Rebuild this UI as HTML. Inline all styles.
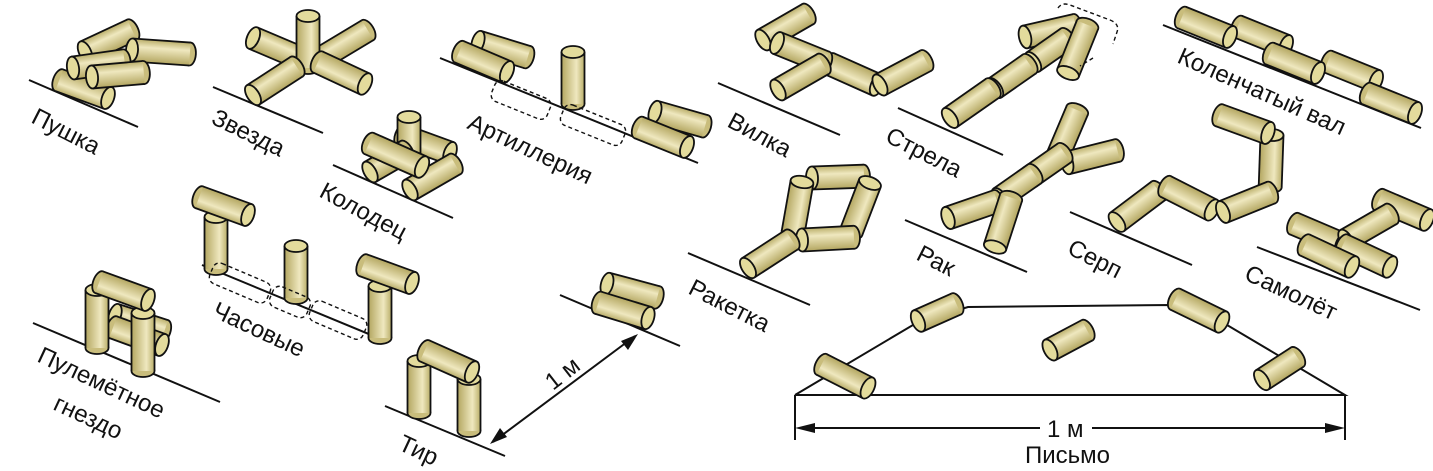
<!DOCTYPE html>
<html><head><meta charset="utf-8"><style>
html,body{margin:0;padding:0;background:#fff}
svg{display:block}
text{font-family:"Liberation Sans",sans-serif;font-size:24px;fill:#111}
</style></head><body>
<svg width="1433" height="471" viewBox="0 0 1433 471" xmlns="http://www.w3.org/2000/svg">
<defs>
<linearGradient id="g" x1="0" y1="0" x2="0" y2="1">
<stop offset="0" stop-color="#b9ad68"/><stop offset="0.35" stop-color="#efe8bf"/><stop offset="1" stop-color="#b3a660"/>
</linearGradient>
<g id="c"><ellipse cx="52" cy="0" rx="6" ry="11.5" fill="#c9bd7c" stroke="#111" stroke-width="1.8"/><rect x="0" y="-11.5" width="52" height="23" fill="url(#g)"/><line x1="0" y1="-11.5" x2="52" y2="-11.5" stroke="#111" stroke-width="1.8"/><line x1="0" y1="11.5" x2="52" y2="11.5" stroke="#111" stroke-width="1.8"/><ellipse cx="0" cy="0" rx="6" ry="11.5" fill="#e3db9c" stroke="#111" stroke-width="1.8"/></g>
<g id="s"><ellipse cx="42" cy="0" rx="6" ry="11.5" fill="#c9bd7c" stroke="#111" stroke-width="1.8"/><rect x="0" y="-11.5" width="42" height="23" fill="url(#g)"/><line x1="0" y1="-11.5" x2="42" y2="-11.5" stroke="#111" stroke-width="1.8"/><line x1="0" y1="11.5" x2="42" y2="11.5" stroke="#111" stroke-width="1.8"/><ellipse cx="0" cy="0" rx="6" ry="11.5" fill="#e3db9c" stroke="#111" stroke-width="1.8"/></g>
<g id="l"><ellipse cx="58" cy="0" rx="6" ry="11.5" fill="#c9bd7c" stroke="#111" stroke-width="1.8"/><rect x="0" y="-11.5" width="58" height="23" fill="url(#g)"/><line x1="0" y1="-11.5" x2="58" y2="-11.5" stroke="#111" stroke-width="1.8"/><line x1="0" y1="11.5" x2="58" y2="11.5" stroke="#111" stroke-width="1.8"/><ellipse cx="0" cy="0" rx="6" ry="11.5" fill="#e3db9c" stroke="#111" stroke-width="1.8"/></g>
</defs>
<g stroke="#111" stroke-width="2" fill="none">
<line x1="29" y1="80" x2="138" y2="127"/>
<line x1="213" y1="87" x2="323" y2="133"/>
<line x1="333" y1="165" x2="453" y2="218"/>
<line x1="440" y1="58" x2="698" y2="163"/>
<line x1="718" y1="83" x2="840" y2="135"/>
<line x1="898" y1="108" x2="1003" y2="155"/>
<line x1="1163" y1="25" x2="1421" y2="128"/>
<line x1="33" y1="323" x2="220" y2="402"/>
<line x1="202" y1="265" x2="388" y2="342"/>
<line x1="385" y1="406" x2="505" y2="456"/>
<line x1="560" y1="295" x2="680" y2="346"/>
<line x1="688" y1="253" x2="810" y2="305"/>
<line x1="905" y1="220" x2="1027" y2="272"/>
<line x1="1070" y1="212" x2="1192" y2="265"/>
<line x1="1257" y1="247" x2="1420" y2="310"/>
<polyline points="795,395 918,322 968,307 1172,305 1222,322 1345,395 795,395"/>
<line x1="795" y1="395" x2="795" y2="440"/><line x1="1345" y1="395" x2="1345" y2="440"/>
<line x1="800" y1="428" x2="1040" y2="428"/><line x1="1092" y1="428" x2="1340" y2="428"/>
<line x1="493" y1="442" x2="635" y2="336"/>
</g>
<g fill="#111">
<polygon points="795,428 815,423 815,433"/><polygon points="1345,428 1325,423 1325,433"/>
<polygon points="490,444 500,428 507,437"/><polygon points="638,334 628,350 621,341"/>
</g>
<g>
<!-- Пушка -->
<use href="#c" transform="translate(85,52) rotate(-25)"/>
<use href="#l" transform="translate(132,50) rotate(4)"/>
<use href="#c" transform="translate(108,98) rotate(200)"/>
<use href="#c" transform="translate(73,68) rotate(-8)"/>
<use href="#c" transform="translate(92,77) rotate(-5)"/>
<!-- Звезда -->
<use href="#c" transform="translate(253,38) rotate(23)"/>
<use href="#l" transform="translate(318,60) rotate(-31)"/>
<use href="#c" transform="translate(308,16) rotate(90)"/>
<use href="#c" transform="translate(365,84) rotate(205)"/>
<use href="#c" transform="translate(253,95) rotate(-33)"/>
<!-- Колодец -->
<use href="#c" transform="translate(450,153) rotate(200)"/>
<use href="#s" transform="translate(409,117) rotate(90)"/>
<use href="#s" transform="translate(370,172) rotate(-30)"/>
<use href="#c" transform="translate(410,190) rotate(-30)"/>
<use href="#l" transform="translate(422,167) rotate(204)"/>
<!-- Артиллерия -->
<use href="#c" transform="translate(478,42) rotate(17)"/>
<use href="#c" transform="translate(507,72) rotate(203)"/>
<use href="#c" transform="translate(573,52) rotate(90)"/>
<use href="#c" transform="translate(655,112) rotate(16)"/>
<use href="#c" transform="translate(687,147) rotate(202)"/>
<!-- Вилка -->
<use href="#c" transform="translate(763,40) rotate(-30)"/>
<use href="#c" transform="translate(877,85) rotate(204)"/>
<use href="#c" transform="translate(777,43) rotate(22)"/>
<use href="#c" transform="translate(778,90) rotate(-30)"/>
<use href="#c" transform="translate(880,85) rotate(-28)"/>
<!-- Стрела -->
<use href="#c" transform="translate(1025,37) rotate(-13)"/>
<use href="#s" transform="translate(1033,62) rotate(-35)"/>
<use href="#s" transform="translate(995,88) rotate(-35)"/>
<use href="#c" transform="translate(950,118) rotate(-35)"/>
<use href="#c" transform="translate(1068,73) rotate(-68)"/>
<path d="M1058,8 Q1062,2 1070,5 L1110,20 Q1120,24 1117,32 L1113,44 M1093,58 L1080,66" fill="none" stroke="#111" stroke-dasharray="4 3" stroke-width="1.4"/>
<!-- Коленчатый вал -->
<use href="#c" transform="translate(1286,46) rotate(202)"/>
<use href="#c" transform="translate(1230,37) rotate(202)"/>
<use href="#c" transform="translate(1376,81) rotate(202)"/>
<use href="#c" transform="translate(1318,73) rotate(202)"/>
<use href="#c" transform="translate(1415,113) rotate(202)"/>
<!-- Ракетка -->
<use href="#c" transform="translate(812,178) rotate(-2)"/>
<use href="#c" transform="translate(870,183) rotate(111)"/>
<use href="#c" transform="translate(802,182) rotate(100)"/>
<use href="#c" transform="translate(802,240) rotate(-3)"/>
<use href="#c" transform="translate(748,268) rotate(-33)"/>
<!-- Рак -->
<use href="#c" transform="translate(1057,158) rotate(-67)"/>
<use href="#c" transform="translate(1067,163) rotate(-14)"/>
<use href="#s" transform="translate(1030,177) rotate(-35)"/>
<use href="#s" transform="translate(1000,198) rotate(-35)"/>
<use href="#c" transform="translate(948,218) rotate(-19)"/>
<use href="#c" transform="translate(995,247) rotate(-72)"/>
<!-- Серп -->
<use href="#c" transform="translate(1272,135) rotate(92)"/>
<use href="#c" transform="translate(1268,133) rotate(200)"/>
<use href="#c" transform="translate(1117,222) rotate(-37)"/>
<use href="#c" transform="translate(1212,210) rotate(207)"/>
<use href="#c" transform="translate(1223,212) rotate(-22)"/>
<!-- Самолёт -->
<use href="#c" transform="translate(1427,220) rotate(203)"/>
<use href="#c" transform="translate(1342,244) rotate(203)"/>
<use href="#c" transform="translate(1346,240) rotate(-30)"/>
<use href="#c" transform="translate(1390,267) rotate(205)"/>
<use href="#c" transform="translate(1352,267) rotate(205)"/>
<!-- Пулемётное гнездо -->
<use href="#c" transform="translate(115,315) rotate(18)"/>
<use href="#c" transform="translate(162,345) rotate(200)"/>
<use href="#l" transform="translate(97,290) rotate(90)"/>
<use href="#l" transform="translate(143,313) rotate(90)"/>
<use href="#c" transform="translate(148,300) rotate(200)"/>
<!-- Часовые -->
<use href="#c" transform="translate(216,217) rotate(90)"/>
<use href="#c" transform="translate(248,215) rotate(200)"/>
<use href="#c" transform="translate(296,246) rotate(90)"/>
<use href="#c" transform="translate(380,286) rotate(90)"/>
<use href="#c" transform="translate(412,283) rotate(200)"/>
<!-- Тир -->
<use href="#c" transform="translate(419,361) rotate(90)"/>
<use href="#c" transform="translate(469,379) rotate(90)"/>
<use href="#c" transform="translate(472,372) rotate(204)"/>
<!-- small pair -->
<use href="#c" transform="translate(607,284) rotate(15)"/>
<use href="#c" transform="translate(648,318) rotate(197)"/>
<!-- Письмо -->
<use href="#c" transform="translate(868,388) rotate(207)"/>
<use href="#s" transform="translate(918,321) rotate(-24)"/>
<use href="#s" transform="translate(1050,350) rotate(-28)"/>
<use href="#c" transform="translate(1222,322) rotate(206)"/>
<use href="#s" transform="translate(1262,380) rotate(-33)"/>
</g>
<g fill="none" stroke="#111" stroke-dasharray="4 3" stroke-width="1.4">
<rect x="491" y="89" width="60" height="22" rx="7" transform="rotate(22 521 100)"/>
<rect x="560" y="114" width="66" height="22" rx="7" transform="rotate(22 593 125)"/>
<rect x="209" y="272" width="62" height="22" rx="7" transform="rotate(23 240 283)"/>
<rect x="270" y="291" width="40" height="22" rx="7" transform="rotate(23 290 302)"/>
<rect x="309" y="309" width="58" height="22" rx="7" transform="rotate(23 338 320)"/>
</g>
<text transform="translate(30,122) rotate(27)">Пушка</text>
<text transform="translate(210,123) rotate(26)">Звезда</text>
<text transform="translate(318,196) rotate(28)">Колодец</text>
<text transform="translate(466,128) rotate(25)">Артиллерия</text>
<text transform="translate(726,126) rotate(28)">Вилка</text>
<text transform="translate(884,141) rotate(27)">Стрела</text>
<text transform="translate(1176,62) rotate(24)">Коленчатый вал</text>
<text transform="translate(36,361) rotate(25)">Пулемётное</text>
<text transform="translate(52,409) rotate(25)">гнездо</text>
<text transform="translate(211,316) rotate(25)">Часовые</text>
<text transform="translate(397,449) rotate(25)">Тир</text>
<text transform="translate(687,293) rotate(27)">Ракетка</text>
<text transform="translate(915,259) rotate(27)">Рак</text>
<text transform="translate(1066,253) rotate(27)">Серп</text>
<text transform="translate(1243,279) rotate(25)">Самолёт</text>
<text transform="translate(553,391) rotate(-38)">1 м</text>
<text x="1047" y="437">1 м</text>
<text x="1025" y="463">Письмо</text>
</svg>
</body></html>
